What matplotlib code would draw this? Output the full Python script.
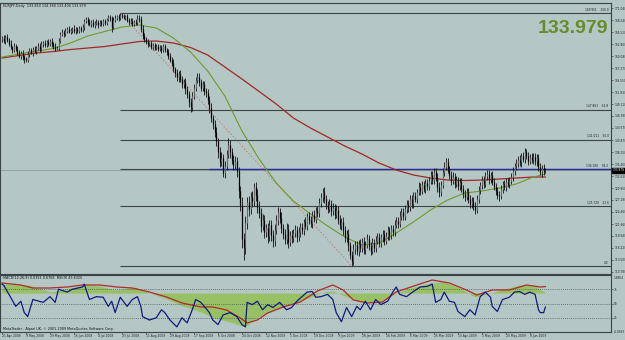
import matplotlib
matplotlib.use('Agg')
import matplotlib.pyplot as plt
import numpy as np
from matplotlib.transforms import blended_transform_factory

# ---------------- data ----------------
symbol_text = "EURJPY,Daily  133.850 134.380 133.404 133.979"
ind_text = "MACD(12,26,9) 0.0351 0.6768  RSI(9) 43.6325"
copyright_text = "MetaTrader - Alpari UK, \u00a9 2001-2009 MetaQuotes Software Corp."
big_price = "133.979"
last_price = 133.979
first_open = 164.0

closes = [
 164.2,163.6,164.5,163.8,162.9,162.1,161.5,162.4,161.8,160.9,
 160.2,160.8,159.9,159.4,159.2,160.6,161.4,160.9,161.8,161.2,
 161.9,162.5,161.7,162.8,163.1,162.6,163.3,162.9,163.6,162.8,
 162.4,161.8,161.9,163.6,165.2,165.6,165.1,165.9,166.3,165.7,
 166.0,166.4,165.8,166.2,165.9,166.5,166.1,166.8,168.2,168.6,
 167.9,167.4,167.9,167.2,167.6,168.0,167.3,167.8,167.5,168.1,
 167.7,168.5,169.0,168.7,166.8,168.4,168.9,169.2,168.7,169.6,
 169.3,168.9,169.2,168.3,167.9,168.2,167.5,168.0,167.6,168.9,
 168.6,166.4,164.8,163.9,163.4,162.8,163.0,162.2,162.6,161.9,
 162.4,161.8,162.1,161.5,162.3,161.6,161.1,160.2,159.3,158.6,
 157.1,156.3,155.2,155.9,154.8,153.6,154.2,152.5,151.4,149.6,
 148.4,150.9,152.8,154.6,155.4,154.1,152.9,153.6,152.2,151.6,
 150.1,148.2,146.0,144.5,142.8,140.6,138.2,135.9,136.8,133.4,
 134.9,137.6,139.8,138.1,136.4,135.2,136.0,133.9,129.2,126.1,
 118.2,116.4,121.8,126.6,125.1,127.8,126.9,130.2,128.4,125.6,
 124.2,121.3,122.6,119.8,120.7,118.9,121.4,119.2,117.8,120.3,
 122.6,124.4,123.1,120.8,119.4,118.2,120.6,117.6,119.1,118.5,
 119.6,120.4,118.7,119.8,121.0,120.2,122.1,121.3,123.4,122.6,
 121.8,123.7,122.9,124.8,124.2,126.4,127.8,129.1,127.3,126.0,
 125.2,126.3,124.6,125.4,123.8,124.9,122.7,121.4,122.2,120.3,
 118.6,119.4,116.8,114.6,113.2,115.9,116.8,115.4,117.2,116.1,
 117.6,115.8,116.9,118.2,116.7,115.6,117.4,116.2,117.9,118.8,
 117.3,118.6,119.4,117.8,118.9,120.2,119.1,120.6,119.8,121.5,
 122.4,121.7,123.6,124.5,123.4,125.1,126.3,125.5,127.4,126.2,
 128.1,127.5,129.0,130.2,129.3,130.6,129.8,131.1,130.3,131.6,
 132.9,131.8,133.6,132.4,130.2,128.9,130.7,133.5,134.8,135.9,
 134.2,132.8,131.6,132.5,130.9,131.7,130.4,131.2,129.8,128.6,
 127.9,129.1,127.4,126.2,127.0,125.8,124.9,127.3,129.4,130.6,
 131.8,130.9,132.6,133.2,131.9,132.8,131.4,130.2,129.3,128.4,
 128.1,129.6,130.8,130.2,131.4,130.9,131.6,132.4,133.8,134.9,
 135.6,136.4,135.8,137.2,136.6,138.1,137.3,136.2,137.0,136.4,
 137.1,136.0,136.8,134.7,133.6,134.4,133.85,133.979]

upper_wick = [
 .5,.7,.4,.6,.5,.8,.4,.6,.5,.7, .6,.5,.8,.4,.6,.7,.5,.6,.4,.7,
 .4,.6,.5,.7,.4,.6,.5,.8,.4,.6, .5,.6,.4,.7,.5,.6,.4,.6,.5,.7,
 .6,.4,.7,.5,.6,.4,.5,.6,.4,.5, .5,.6,.4,.7,.5,.6,.4,.5,.6,.4,
 .5,.4,.5,.4,.6,.6,.5,.4,.6,.35, .4,.5,.3,.5,.4,.6,.5,.4,.6,.5,
 .5,.6,.7,.5,.6,.5,.4,.6,.5,.4, .5,.4,.6,.5,.6,.5,.4,.6,.7,.6,
 .8,.6,.9,.7,1.0,.8,.7,.9,.8,.7, .9,1.0,.8,.7,.9,.8,.7,.9,.8,.7,
 .9,.8,1.1,.7,.9,1.0,.8,1.2,1.4,.9, 1.2,1.0,1.5,1.2,.9,1.1,1.3,1.0,.8,1.2,
 1.8,1.5,1.6,1.2,1.4,1.3,1.5,.8,1.2,1.4, 1.3,1.1,1.4,1.2,1.0,1.3,1.1,1.2,1.0,1.4,
 1.1,1.2,1.0,1.3,.9,1.1,1.2,1.0,.9,1.1, .9,1.0,.8,1.1,.9,1.0,.8,1.1,.9,1.0,
 1.0,.9,1.1,.8,1.0,1.2,1.0,.9,1.1,.9, .9,1.1,.8,1.0,.9,1.1,.8,1.0,.9,1.0,
 1.0,.9,1.1,.8,1.0,1.2,.9,1.0,.8,1.0, .9,1.0,.8,1.1,.9,.8,1.0,.9,1.1,.8,
 .8,.9,1.0,.8,.9,1.0,.8,.9,.8,1.0, .9,.8,1.0,.9,.8,1.0,.9,.8,1.0,.9,
 .8,.9,.8,1.0,.8,.9,1.0,.8,.9,.8, 1.0,.8,.9,.8,.9,1.0,.8,.9,1.0,.8,
 .9,.8,.9,1.0,.8,.9,.8,1.0,.9,.8, .8,.9,.8,1.0,.8,.9,.8,1.0,.9,.8,
 .9,.8,1.0,.8,.9,.8,1.0,.9,.8,.9, .8,.9,.8,1.0,.8,.9,.8,1.0,.9,.8,
 .9,.8,1.0,.8,.9,.9,.8,.9,.8,1.0, .8,.9,.8,1.0,.9,.8,.9,.401]

lower_wick = [
 .6,.4,.7,.5,.6,.4,.8,.5,.6,.5, .5,.7,.6,.8,.4,.5,.6,.4,.7,.5,
 .6,.4,.7,.5,.6,.5,.4,.6,.5,.7, .6,.5,.4,.5,.6,.4,.7,.5,.6,.4,
 .5,.7,.4,.6,.5,.6,.4,.5,.7,.6, .6,.4,.7,.5,.6,.5,.7,.4,.6,.5,
 .6,.5,.4,.6,1.2,.5,.4,.6,.5,.4, .5,.4,.6,.5,.6,.4,.5,.6,.4,.5,
 .6,.7,.8,.6,.5,.6,.5,.4,.6,.5, .4,.6,.5,.6,.5,.6,.7,.8,.6,.7,
 .7,.9,.8,1.0,.7,.9,.8,1.0,.9,1.1, 1.1,.9,.7,.8,.6,.9,.7,.8,.9,.8,
 1.0,1.2,.9,1.1,1.3,1.0,1.4,1.1,.9,1.0, 1.1,.9,.8,1.3,1.0,1.2,.9,1.4,1.6,1.5,
 2.0,2.9,1.5,1.3,1.6,1.2,1.4,1.1,1.5,1.3, 1.2,1.4,1.1,1.3,1.2,1.5,1.0,1.3,1.4,1.1,
 1.0,1.2,1.3,1.1,1.2,1.0,1.1,1.3,1.0,1.2, 1.0,.9,1.1,.8,1.0,.9,1.1,.8,1.0,.9,
 .9,1.0,.8,1.1,.9,1.0,.8,1.1,.9,1.0, 1.0,.8,1.1,.9,1.0,.8,1.1,.9,1.0,1.2,
 1.1,1.0,1.2,.9,1.13,.9,1.0,.8,1.1,.9, .8,1.0,.9,.8,1.0,.9,.8,1.0,.9,.8,
 .9,.8,1.0,.9,.8,.9,1.0,.8,.9,.8, .8,.9,.8,1.0,.9,.8,.9,1.0,.8,.9,
 .9,.8,1.0,.8,.9,.8,.9,1.0,.8,.9, .8,.9,1.0,.8,1.1,1.0,.9,.8,.9,.8,
 .8,.9,1.0,.8,.9,.8,1.0,.9,.8,1.0, .9,.8,1.0,.9,.8,1.0,.9,.8,.9,.8,
 .8,1.0,.8,.9,1.0,.8,.9,.8,1.0,.9, 1.1,.8,.9,.8,1.0,.8,.9,.8,.9,.8,
 .8,.9,.8,1.0,.8,.9,.8,1.0,.9,.8, .9,.8,1.0,.9,.8,1.1,.9,.446]

# moving averages read every 10 bars (+ last bar)
ma_bars = [0,10,20,30,40,50,60,70,80,90,100,110,120,130,140,150,160,170,180,190,
           200,210,220,230,240,250,260,270,280,290,300,310,317]
ma_red = [159.65,160.23,160.80,161.14,161.60,161.94,162.29,162.86,163.43,163.54,163.09,
          162.06,160.34,157.60,154.85,152.00,149.13,145.93,143.64,141.58,139.52,137.69,
          135.63,134.03,132.89,132.20,131.74,131.63,131.74,131.97,132.20,132.43,132.43]
ma_green = [159.88,160.57,161.26,161.83,163.09,164.69,165.72,166.75,167.20,166.52,164.23,
            161.03,156.68,150.96,142.95,136.55,131.06,126.93,123.96,121.21,118.70,116.87,
            117.33,119.62,122.13,124.88,127.17,128.77,129.22,129.91,130.83,132.43,133.12]

# Fibonacci retracement
fib_start_bar, fib_end_bar = 69, 204
fib_high, fib_low = 169.951, 112.07
fib_levels = [100.0, 61.8, 50.0, 38.2, 23.6, 0.0]
fib_prices = [169.951, 147.861, 141.011, 134.180, 125.729, 112.07]
blue_line_price = 134.180
blue_line_start = 121

price_ticks = [171.040,168.240,165.520,162.800,160.080,157.270,154.550,151.830,149.110,
               146.390,143.670,140.870,138.150,135.400,132.620,129.900,127.180,124.460,
               121.660,118.940,116.220,113.500,110.780]

# RSI(9) readings (bar index, value)
rsi_bars = [0,1,5,8,11,13,15,18,24,28,31,33,38,41,47,48,51,55,59,62,64,66,69,73,76,79,81,82,
            86,90,93,95,98,102,105,108,111,113,116,118,121,123,126,129,133,137,140,142,143,
            146,149,152,155,158,162,166,169,172,175,178,181,183,186,190,193,195,198,201,204,
            207,209,212,215,218,221,225,228,230,232,236,240,244,248,251,253,256,258,261,264,
            266,270,273,276,279,282,285,286,289,292,296,299,302,305,308,311,313,314,316,317]
rsi_vals = [84,82,61,45,54,34,27,57,52,62,52,75,70,75,79,84,57,62,61,45,54,34,61,45,57,62,45,27,
            21,25,39,34,21,9,25,16,39,57,52,45,34,21,13,30,34,27,13,9,52,
            48,54,39,48,43,52,39,43,54,62,70,71,61,62,66,57,34,18,43,27,
            45,39,54,39,57,48,54,70,79,66,62,71,79,80,84,52,57,70,54,52,
            36,27,39,30,62,70,61,45,36,57,61,70,71,66,70,66,39,34,34,43.6]

# MACD(12,26,9) readings (bar index, value)
macd_bars = [0,16,28,40,48,57,66,78,86,95,104,116,124,133,142,148,156,168,180,188,193,200,
             209,220,229,238,250,258,267,276,285,293,302,311,317]
macd_vals = [0.947,0.843,0.113,0.530,0.843,0.739,0.321,0.634,0.009,-0.512,-1.242,-1.972,
             -2.598,-3.015,-3.536,-2.598,-1.972,-1.242,-0.408,0.113,0.217,-0.304,-0.930,
             -0.930,-0.095,0.530,1.052,1.156,0.530,-0.408,0.009,0.426,0.843,0.739,0.0351]
sig_bars = [0,11,18,28,38,47,57,67,76,86,96,105,116,123,131,139,143,149,155,164,174,184,193,
            199,205,213,222,230,242,251,261,271,277,286,296,306,314,317]
sig_vals = [1.051,0.843,0.530,0.530,0.634,0.843,0.843,0.634,0.530,0.113,-0.408,-1.034,-1.451,
            -1.451,-1.764,-2.598,-3.119,-2.807,-2.077,-1.451,-0.930,0.217,0.843,0.321,-0.721,
            -1.034,-0.930,0.113,0.843,1.364,1.051,0.321,-0.200,0.321,0.321,0.843,0.634,0.6768]
macd_top, macd_bottom = 1.8854, -4.0583
rsi_levels = [75, 50, 25]

date_labels = ['21 Apr 2008','9 May 2008','29 May 2008','16 Jun 2008','4 Jul 2008','23 Jul 2008',
               '11 Aug 2008','29 Aug 2008','17 Sep 2008','6 Oct 2008','24 Oct 2008','12 Nov 2008',
               '1 Dec 2008','19 Dec 2008','9 Jan 2009','28 Jan 2009','16 Feb 2009','6 Mar 2009',
               '25 Mar 2009','13 Apr 2009','1 May 2009','20 May 2009','8 Jun 2009']
date_step = 14

# ---------------- layout ----------------
W, H = 625, 340
BG = '#b4c7c4'
plt.rcParams['font.family'] = ['DejaVu Sans']
fig = plt.figure(figsize=(W/100, H/100), dpi=100)
fig.patch.set_facecolor(BG)

def rect(x0, y0, x1, y1):
    return [x0/W, 1 - y1/H, (x1-x0)/W, (y1-y0)/H]

ax = fig.add_axes(rect(0, 3, 611, 274))
axi = fig.add_axes(rect(0, 275, 611, 332))
for a in (ax, axi):
    a.set_facecolor(BG)
    for s in a.spines.values():
        s.set_color('#3a4444'); s.set_linewidth(0.8)

N = len(closes)
xs = np.arange(N)
c = np.array(closes)
o = np.array([first_open] + closes[:-1])
hi = np.maximum(o, c) + np.array(upper_wick)
lo = np.minimum(o, c) - np.array(lower_wick)

xlim = (-1.17, 355.3)
ax.set_xlim(*xlim); axi.set_xlim(*xlim)
ax.set_ylim(110.24, 172.24)

SMALL = 2.1
# fib lines
for lev, pr in zip(fib_levels, fib_prices):
    ax.hlines(pr, fib_start_bar, xlim[1], color='#3c4646', lw=0.8, zorder=1)
    txt = '0.0' if lev == 0 else f'{pr:.3f}    {lev:.1f}'
    ax.text(0.996, pr + 0.25, txt, transform=blended_transform_factory(ax.transAxes, ax.transData),
            ha='right', va='bottom', fontsize=SMALL, color='#1a1a1a')
ax.plot([fib_start_bar, fib_end_bar], [fib_high, fib_low], color='#c07a7a', lw=0.6, ls=(0, (2, 2)), zorder=1)
# bid line and blue horizontal
ax.axhline(last_price, color='#8c9c9a', lw=0.6, zorder=1)
ax.hlines(blue_line_price, blue_line_start, xlim[1], color='#2a2a9a', lw=1.0, zorder=2)

# MAs
ax.plot(ma_bars, ma_red, color='#a02828', lw=0.9, zorder=3)
ax.plot(ma_bars, ma_green, color='#6f9a2a', lw=0.8, zorder=3)

# candles
ax.vlines(xs, lo, hi, color='#111111', lw=0.6, zorder=4)
up = c >= o
ax.vlines(xs[up], o[up], c[up], color='#6a6a6a', lw=0.8, zorder=5)
ax.vlines(xs[~up], o[~up], c[~up], color='black', lw=0.9, zorder=5)

ax.yaxis.tick_right()
ax.set_yticks(price_ticks)
ax.set_yticklabels([f'{v:.3f}' for v in price_ticks])
ax.tick_params(axis='y', labelsize=SMALL, length=1.5, width=0.4, pad=0.8, colors='#222222')
ax.set_xticks([])

# price box
ax.text(1.002, last_price, f'{last_price:.3f}', transform=blended_transform_factory(ax.transAxes, ax.transData),
        ha='left', va='center', fontsize=SMALL, color='white', clip_on=False,
        bbox=dict(boxstyle='square,pad=0.2', fc='black', ec='black'))

ax.text(0.005, 0.995, symbol_text, transform=ax.transAxes, ha='left', va='top', fontsize=2.4, color='#111111')
ax.text(0.995, 0.905, big_price, transform=ax.transAxes, ha='right', va='center', fontsize=14,
        fontweight='bold', color='#688c2c', family=['Liberation Sans', 'DejaVu Sans'])

# ---------------- indicator ----------------
def m2r(v):
    return (np.asarray(v) - macd_bottom) / (macd_top - macd_bottom) * 100.0

axi.set_ylim(0, 100)
zero = m2r(0.0)
axi.fill_between(macd_bars, zero, m2r(macd_vals), color='#98c064', lw=0, zorder=1)
axi.plot(sig_bars, m2r(sig_vals), color='#b02a2a', lw=0.9, zorder=3)
for lv in rsi_levels:
    axi.axhline(lv, color='#4a5858', lw=0.6, ls=(0, (1, 1.5)), zorder=2)
axi.plot(rsi_bars, rsi_vals, color='#101a80', lw=0.9, zorder=4)
axi.set_xticks([])
axi.yaxis.tick_right()
axi.set_yticks(rsi_levels)
axi.set_yticklabels([str(v) for v in rsi_levels])
axi.tick_params(axis='y', labelsize=SMALL, length=1.5, width=0.4, pad=0.8, colors='#222222')
axi.text(1.004, 0.98, f'{macd_top:.4f}', transform=axi.transAxes, ha='left', va='top', fontsize=SMALL, color='#222222')
axi.text(1.004, 0.0, f'{macd_bottom:.4f}', transform=axi.transAxes, ha='left', va='center', fontsize=SMALL, color='#222222')
axi.text(0.005, 0.985, ind_text, transform=axi.transAxes, ha='left', va='top', fontsize=2.4, color='#111111')
axi.text(0.005, 0.01, copyright_text, transform=axi.transAxes, ha='left', va='bottom', fontsize=2.4, color='#111111')

tr = blended_transform_factory(axi.transData, axi.transAxes)
for k, lab in enumerate(date_labels):
    bx = k * date_step
    axi.text(bx, -0.03, lab, transform=tr, ha='left', va='top', fontsize=2.2, color='#222222', clip_on=False)
    axi.plot([bx, bx], [0, -0.03], transform=tr, color='#333333', lw=0.4, clip_on=False)

fig.savefig('out.png', dpi=100, facecolor=BG)
